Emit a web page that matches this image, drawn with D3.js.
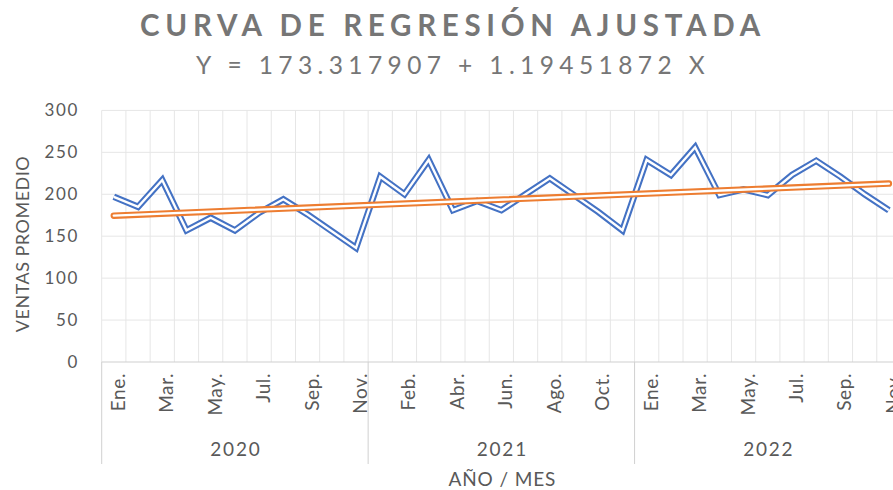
<!DOCTYPE html>
<html>
<head>
<meta charset="utf-8">
<script src="https://cdn.jsdelivr.net/npm/d3@7"></script>
<style>
  html, body { margin: 0; padding: 0; background: #fff; overflow: hidden; }
  svg { display: block; font-family: "Lato", "Open Sans", sans-serif; }
</style>
</head>
<body>
<svg id="chart" width="893" height="490"></svg>
<script>
// Monthly average sales, January to November of each year
const years = ["2020", "2021", "2022"];
const months = ["Ene.", "Feb.", "Mar.", "Abr.", "May.", "Jun.", "Jul.", "Ago.", "Sep.", "Oct.", "Nov."];
const ventas2020 = [197, 185, 217, 157, 172, 157, 178, 194, 176, 156, 136];
const ventas2021 = [221, 200, 241, 181, 192, 181, 200, 219, 199, 179, 157];
const ventas2022 = [241, 223, 256, 199, 206, 199, 223, 240, 221, 200, 181];
const yTicks = [0, 50, 100, 150, 200, 250, 300];
// Fitted line Y = a + b X, X = 1..n
const intercept = 173.317907;
const slope = 1.19451872;

const series = [ventas2020, ventas2021, ventas2022];
const points = [];
series.forEach((vals, yi) => vals.forEach((v, mi) => points.push({ year: years[yi], month: months[mi], value: v })));
points.forEach((p, i) => { p.i = i; p.X = i + 1; });

const svg = d3.select("#chart");
const plotL = 101.7, plotR = 901, plotT = 110.4, plotB = 362;

const x = d3.scaleBand().domain(points.map(p => p.i)).range([plotL, plotR]).paddingInner(0).paddingOuter(0);
const cx = i => x(i) + x.bandwidth() / 2;
const y = d3.scaleLinear().domain([0, 300]).range([plotB, plotT]);

const grid = "#e6e6e6";
const txt = "#595959";

// horizontal gridlines
svg.append("g").selectAll("line").data(yTicks.filter(t => t > 0)).join("line")
  .attr("x1", plotL).attr("x2", plotR)
  .attr("y1", d => y(d)).attr("y2", d => y(d))
  .attr("stroke", grid).attr("stroke-width", 1);

// vertical gridlines at category boundaries
svg.append("g").selectAll("line").data(d3.range(points.length + 1)).join("line")
  .attr("x1", i => plotL + i * x.bandwidth()).attr("x2", i => plotL + i * x.bandwidth())
  .attr("y1", plotT).attr("y2", plotB)
  .attr("stroke", grid).attr("stroke-width", 1);

// bottom axis line
svg.append("line").attr("x1", plotL).attr("x2", plotR).attr("y1", plotB).attr("y2", plotB)
  .attr("stroke", "#d0d0d0").attr("stroke-width", 1.2);

// y axis tick labels
const yAxis = d3.axisLeft(y).tickValues(yTicks).tickSize(0).tickPadding(0);
const yg = svg.append("g").attr("transform", "translate(79,0)").call(yAxis);
yg.select(".domain").remove();
yg.selectAll("text").attr("fill", txt).attr("font-size", 17).attr("letter-spacing", 1.6)
  .attr("font-family", "Lato, sans-serif");

// month labels (every second category)
svg.append("g").selectAll("text").data(points.filter(p => p.i % 2 === 0)).join("text")
  .attr("transform", p => `translate(${cx(p.i) + 11},373) rotate(-90)`)
  .attr("text-anchor", "end")
  .attr("fill", txt).attr("font-size", 19).attr("letter-spacing", 0.6)
  .text(p => p.month);

// year group dividers and labels
const perYear = months.length;
const bounds = d3.range(years.length + 1).map(k => plotL + k * perYear * x.bandwidth());
svg.append("g").selectAll("line").data(bounds).join("line")
  .attr("x1", d => d).attr("x2", d => d).attr("y1", plotB).attr("y2", 464)
  .attr("stroke", "#d0d0d0").attr("stroke-width", 1);
svg.append("g").selectAll("text").data(years).join("text")
  .attr("x", (d, k) => (bounds[k] + bounds[k + 1]) / 2 + 1)
  .attr("y", 456)
  .attr("text-anchor", "middle").attr("fill", txt).attr("font-size", 19).attr("letter-spacing", 1.8)
  .text(d => d);

// axis titles
svg.append("text").attr("x", (plotL + plotR) / 2 + 1).attr("y", 486)
  .attr("text-anchor", "middle").attr("fill", txt).attr("font-size", 19).attr("letter-spacing", 0.9)
  .text("AÑO / MES");
svg.append("text").attr("transform", "translate(29,244) rotate(-90)")
  .attr("text-anchor", "middle").attr("fill", txt).attr("font-size", 18).attr("letter-spacing", 0.5)
  .text("VENTAS PROMEDIO");

// chart title and equation
svg.append("text").attr("x", 453).attr("y", 36)
  .attr("text-anchor", "middle").attr("fill", "#767676").attr("font-size", 29.5)
  .attr("font-weight", 700).attr("letter-spacing", 5.7)
  .text("CURVA DE REGRESIÓN AJUSTADA");
svg.append("text").attr("x", 453).attr("y", 74)
  .attr("text-anchor", "middle").attr("fill", "#767676").attr("font-size", 24.5)
  .attr("letter-spacing", 5.4)
  .text(`Y = ${intercept} + ${slope} X`);

// sales line: blue outline with white core
const line = d3.line().x(p => cx(p.i)).y(p => y(p.value));
const salesG = svg.append("g");
salesG.append("path").datum(points).attr("d", line).attr("fill", "none").attr("stroke", "#4472C4")
  .attr("stroke-width", 6.5).attr("stroke-linejoin", "miter").attr("stroke-miterlimit", 10);
salesG.append("path").datum(points).attr("d", line).attr("fill", "none").attr("stroke", "#fff")
  .attr("stroke-width", 2.4).attr("stroke-linejoin", "miter").attr("stroke-miterlimit", 10);

// fitted trend line
const fit = [points[0], points[points.length - 1]].map(p => ({ i: p.i, value: intercept + slope * p.X }));
const trendG = svg.append("g");
trendG.append("path").datum(fit).attr("d", line).attr("fill", "none").attr("stroke", "#ED7D31")
  .attr("stroke-width", 6.5).attr("stroke-linecap", "round");
trendG.append("path").datum(fit).attr("d", line).attr("fill", "none").attr("stroke", "#fff")
  .attr("stroke-width", 2.4).attr("stroke-linecap", "round");
</script>
</body>
</html>
